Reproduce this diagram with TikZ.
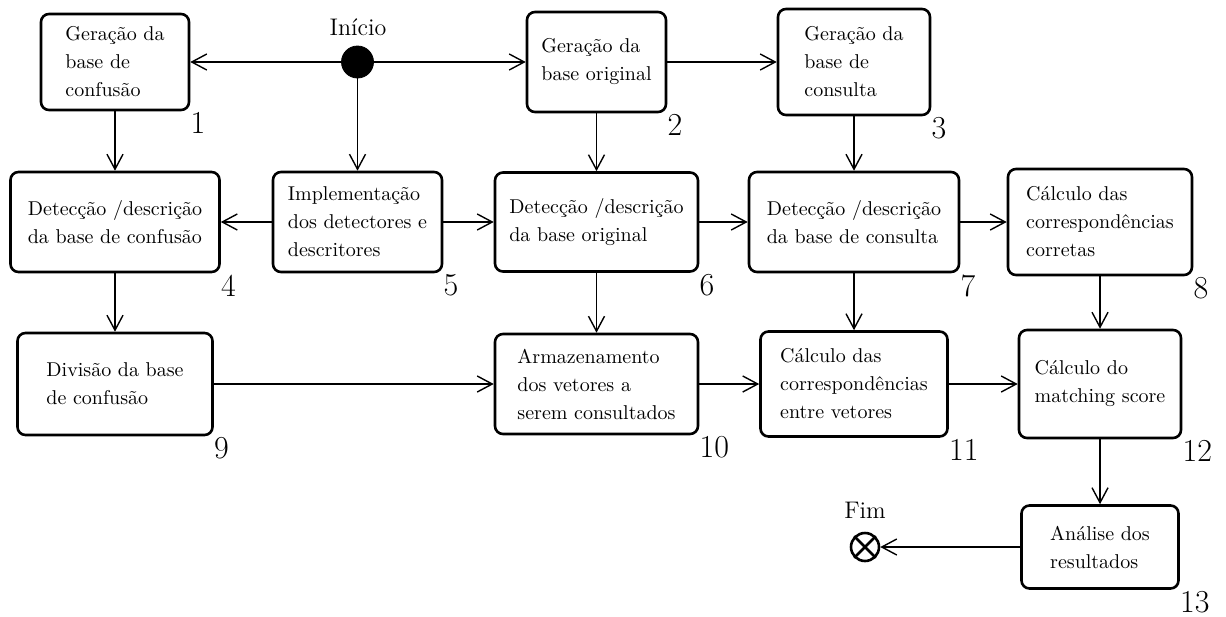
\documentclass[tikz,border=0pt]{standalone}
\usepackage{fontspec}
\usepackage{tikz}
\usetikzlibrary{arrows.meta}

\begin{document}
\begin{tikzpicture}[x=0.5pt, y=-0.5pt,
  box/.style={draw, line width=1.3pt, rounded corners=4pt, align=left, inner sep=0pt, font=\fontsize{10}{14}\selectfont},
  num/.style={anchor=north west, inner sep=0pt, yshift=-0.5pt, font=\fontsize{16}{18}\selectfont},
  arr/.style={line width=0.7pt, -{Straight Barb[length=7.5pt, width=8pt]}}]
  \useasboundingbox (0,0) rectangle (1226,616);

  % Start and end
  \node[draw, circle, fill=black, minimum size=16pt, inner sep=0pt] (ini) at (357.5, 62) {};
  \node[font=\large, anchor=base] (tini) at (358, 35) {Início};
  \node[draw, circle, line width=1.3pt, minimum size=14pt, inner sep=0pt] (fim) at (865, 547) {};
  \draw[line width=1.3pt] (fim.45) -- (fim.225) (fim.135) -- (fim.315);
  \node[font=\large, anchor=base] (tfim) at (865, 518) {Fim};

  % Nodes
  \node[box, minimum width=74pt, minimum height=48pt] (b1) at (115, 62) {Geração da\\base de\\confusão};
  \node[box, minimum width=69.5pt, minimum height=50pt] (b2) at (596.5, 62) {Geração da\\base original};
  \node[box, minimum width=76pt, minimum height=53pt] (b3) at (854, 62) {Geração da\\base de\\consulta};
  \node[box, minimum width=104.5pt, minimum height=50pt] (b4) at (115, 222) {Detecção /descrição\\da base de confusão};
  \node[box, minimum width=84.5pt, minimum height=50pt] (b5) at (357.5, 222) {Implementação\\dos detectores e\\descritores};
  \node[box, minimum width=101.5pt, minimum height=49.5pt] (b6) at (596.5, 222) {Detecção /descrição\\da base original};
  \node[box, minimum width=105pt, minimum height=50pt] (b7) at (854, 222) {Detecção /descrição\\da base de consulta};
  \node[box, minimum width=92pt, minimum height=53pt] (b8) at (1100, 222) {Cálculo das\\correspondências\\corretas};
  \node[box, minimum width=97.5pt, minimum height=51pt] (b9) at (115, 384) {Divisão da base\\de confusão};
  \node[box, minimum width=101.5pt, minimum height=50pt] (b10) at (596.5, 384) {Armazenamento\\dos vetores a\\serem consultados};
  \node[box, minimum width=93.5pt, minimum height=52.5pt] (b11) at (854, 384) {Cálculo das\\correspondências\\entre vetores};
  \node[box, minimum width=81pt, minimum height=54pt] (b12) at (1100, 384) {Cálculo do\\matching score};
  \node[box, minimum width=78.5pt, minimum height=41.5pt] (b13) at (1100, 547) {Análise dos\\resultados};

  % Numbers
  \node[num] (n1) at (b1.south east) {1};
  \node[num] (n2) at (b2.south east) {2};
  \node[num] (n3) at (b3.south east) {3};
  \node[num] (n4) at (b4.south east) {4};
  \node[num] (n5) at (b5.south east) {5};
  \node[num] (n6) at (b6.south east) {6};
  \node[num] (n7) at (b7.south east) {7};
  \node[num] (n8) at (b8.south east) {8};
  \node[num] (n9) at (b9.south east) {9};
  \node[num] (n10) at (b10.south east) {10};
  \node[num] (n11) at (b11.south east) {11};
  \node[num] (n12) at (b12.south east) {12};
  \node[num] (n13) at (b13.south east) {13};

  % Edges
  \draw[arr] (ini) -- (b1);
  \draw[arr] (ini) -- (b2);
  \draw[arr] (ini) -- (b5);
  \draw[arr] (b2) -- (b3);
  \draw[arr] (b1) -- (b4);
  \draw[arr] (b2) -- (b6);
  \draw[arr] (b3) -- (b7);
  \draw[arr] (b5) -- (b4);
  \draw[arr] (b5) -- (b6);
  \draw[arr] (b6) -- (b7);
  \draw[arr] (b7) -- (b8);
  \draw[arr] (b4) -- (b9);
  \draw[arr] (b6) -- (b10);
  \draw[arr] (b7) -- (b11);
  \draw[arr] (b8) -- (b12);
  \draw[arr] (b9) -- (b10);
  \draw[arr] (b10) -- (b11);
  \draw[arr] (b11) -- (b12);
  \draw[arr] (b12) -- (b13);
  \draw[arr] (b13) -- (fim);
\end{tikzpicture}
\end{document}
